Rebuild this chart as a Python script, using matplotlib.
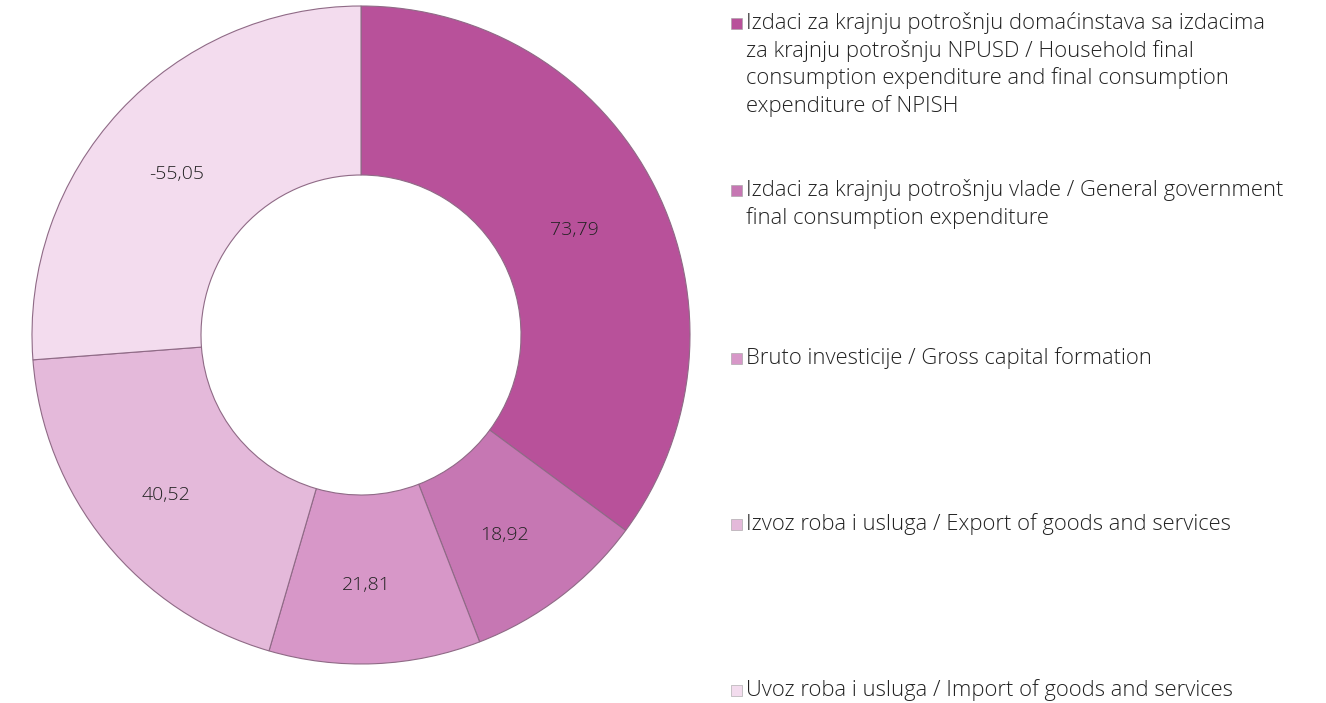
import matplotlib
matplotlib.use("Agg")
import matplotlib.pyplot as plt
from matplotlib.patches import Rectangle
import numpy as np

categories = [
    "Izdaci za krajnju potrošnju domaćinstava sa izdacima\nza krajnju potrošnju NPUSD / Household final\nconsumption expenditure and final consumption\nexpenditure of NPISH",
    "Izdaci za krajnju potrošnju vlade / General government\nfinal consumption expenditure",
    "Bruto investicije / Gross capital formation",
    "Izvoz roba i usluga / Export of goods and services",
    "Uvoz roba i usluga / Import of goods and services",
]
values = [73.79, 18.92, 21.81, 40.52, -55.05]
value_labels = ["73,79", "18,92", "21,81", "40,52", "-55,05"]
colors = ["#B8519A", "#C677B3", "#D797C8", "#E4B9DA", "#F3DCEE"]

W, H = 1326, 703
fig = plt.figure(figsize=(W / 100, H / 100), dpi=100)
plt.rcParams['font.family'] = ['Open Sans', 'DejaVu Sans']

cx, cy, R = 361, 335, 330
ax = fig.add_axes([(cx - R) / W, (H - cy - R) / H, 2 * R / W, 2 * R / H])

sizes = [abs(v) for v in values]
wedges, _ = ax.pie(sizes, colors=colors, startangle=90, counterclock=False,
                   radius=329 / 330,
                   wedgeprops=dict(width=(329 - 160) / 330, edgecolor='#8f6a86', linewidth=0.8))
ax.set_xlim(-1, 1)
ax.set_ylim(-1, 1)
ax.set_aspect('equal')
ax.axis('off')

rmid = (329 + 160) / 2 / 330
for w, lab in zip(wedges, value_labels):
    ang = np.deg2rad((w.theta1 + w.theta2) / 2)
    ax.text(rmid * np.cos(ang) - 0.015, rmid * np.sin(ang) - 0.017, lab,
            ha='center', va='center',
            fontsize=14, fontweight='light', color='#222222')

# legend
ys = [23, 190, 358, 524, 690]
for y, lab, c in zip(ys, categories, colors):
    fig.patches.append(Rectangle(((731) / W, (H - y - 6) / H), 11 / W, 11 / H,
                                 transform=fig.transFigure, facecolor=c,
                                 edgecolor='#a0a0a0', linewidth=0.4))
    fig.text(746 / W, (H - y + 11) / H, lab, ha='left', va='top', fontsize=15.8,
             fontweight='light', color='#222222', linespacing=1.33)

fig.savefig("out.png", dpi=100, facecolor='white')
